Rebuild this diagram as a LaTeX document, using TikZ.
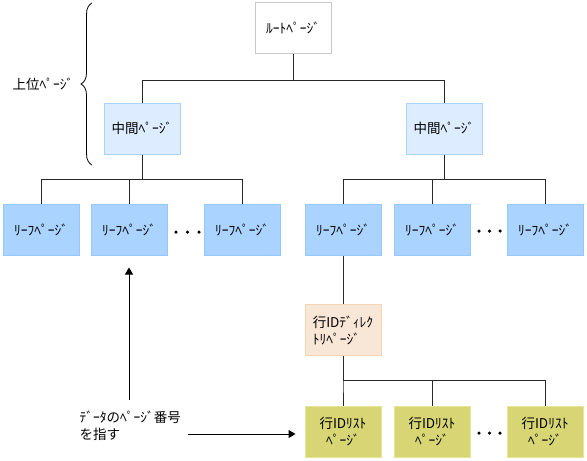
\documentclass[tikz,border=0pt]{standalone}
\usepackage{fontspec}
\setmainfont{Noto Sans CJK JP}
\usetikzlibrary{decorations.pathreplacing,arrows.meta}
\definecolor{rootbd}{RGB}{200,200,200}
\definecolor{midfill}{RGB}{221,237,255}
\definecolor{midbd}{RGB}{170,212,255}
\definecolor{leaffill}{RGB}{170,212,255}
\definecolor{leafbd}{RGB}{150,200,255}
\definecolor{dirfill}{RGB}{248,230,215}
\definecolor{dirbd}{RGB}{246,212,182}
\definecolor{listfill}{RGB}{216,214,116}
\definecolor{listbd}{RGB}{232,230,150}
\definecolor{linec}{RGB}{40,40,40}
\begin{document}
\begin{tikzpicture}[x=1pt,y=-1pt,
  lbl/.style={font=\fontsize{13.5}{17}\selectfont},
  pagebox/.style={lbl, draw, line width=1pt, minimum width=76pt, minimum height=51pt, inner sep=1pt, align=center},
  rootbox/.style={pagebox, fill=white, draw=rootbd},
  midbox/.style={pagebox, fill=midfill, draw=midbd},
  leafbox/.style={pagebox, fill=leaffill, draw=leafbd},
  dirbox/.style={pagebox, fill=dirfill, draw=dirbd, align=left},
  listbox/.style={pagebox, fill=listfill, draw=listbd},
  conn/.style={draw=linec, line width=1pt},
  arr/.style={draw=black, line width=1pt, -{Triangle[length=7pt,width=8pt]}},
  dot/.style={circle, fill=black, inner sep=0pt, minimum size=3.5pt}
]
\useasboundingbox (0,0) rectangle (587,461);

\node[rootbox] (root) at (293,28) {ﾙｰﾄﾍﾟｰｼﾞ};
\node[midbox] (midL) at (142,128.5) {中間ﾍﾟｰｼﾞ};
\node[midbox] (midR) at (444,128.5) {中間ﾍﾟｰｼﾞ};

\node[leafbox] (l1) at (41,229.5) {ﾘｰﾌﾍﾟｰｼﾞ};
\node[leafbox] (l2) at (129,229.5) {ﾘｰﾌﾍﾟｰｼﾞ};
\node[leafbox] (l3) at (242,229.5) {ﾘｰﾌﾍﾟｰｼﾞ};
\node[leafbox] (r1) at (343,229.5) {ﾘｰﾌﾍﾟｰｼﾞ};
\node[leafbox] (r2) at (432,229.5) {ﾘｰﾌﾍﾟｰｼﾞ};
\node[leafbox] (r3) at (545,229.5) {ﾘｰﾌﾍﾟｰｼﾞ};

\node[dirbox] (dir) at (343,330) {行IDﾃﾞｨﾚｸ\\ﾄﾘﾍﾟｰｼﾞ};

\node[listbox] (s1) at (343,431.5) {行IDﾘｽﾄ\\ﾍﾟｰｼﾞ};
\node[listbox] (s2) at (432,431.5) {行IDﾘｽﾄ\\ﾍﾟｰｼﾞ};
\node[listbox] (s3) at (545,431.5) {行IDﾘｽﾄ\\ﾍﾟｰｼﾞ};

% connectors
\path[conn] (root.south) -- ++(0,26) -| (midL.north);
\path[conn] (root.south) -- ++(0,26) -| (midR.north);
\foreach \t in {l1,l2,l3} \path[conn] (midL.south) -- ++(0,25) -| (\t.north);
\foreach \t in {r1,r2,r3} \path[conn] (midR.south) -- ++(0,25) -| (\t.north);
\path[conn] (r1.south) -- (dir.north);
\foreach \t in {s1,s2,s3} \path[conn] (dir.south) -- ++(0,24) -| (\t.north);

% dots
\foreach \x in {176,187.5,199} \node[dot] (dl\x) at (\x,232) {};
\foreach \x in {479,489.5,500} {\node[dot] (dr\x) at (\x,231) {}; \node[dot] (ds\x) at (\x,433) {};}

% brace
\coordinate (bb) at (92,165);
\coordinate (bt) at (92,3);
\draw[line width=0.8pt, decorate, decoration={brace, amplitude=11pt}] (bb) -- (bt);
\node[lbl] (upper) at (43,84) {上位ﾍﾟｰｼﾞ};

% note and arrows
\node[lbl, align=left, anchor=west] (note) at (76,426) {ﾃﾞｰﾀのﾍﾟｰｼﾞ番号\\を指す};
\coordinate (a1) at (129,400);
\path[arr] (a1) -- ([yshift=-12pt]l2.south);
\coordinate (a2) at (188,434);
\path[arr] (a2) -- ([xshift=-9pt]s1.west |- a2);
\end{tikzpicture}
\end{document}
